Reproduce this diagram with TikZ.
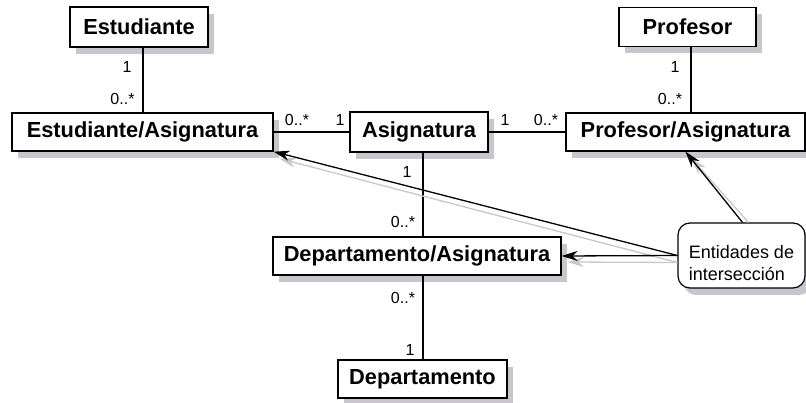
\documentclass[tikz,border=0pt]{standalone}
\usepackage{fontspec}
\setmainfont{Liberation Sans}
\usetikzlibrary{shadows,arrows.meta}

\definecolor{shadowgray}{RGB}{200,198,204}
\definecolor{pointergray}{RGB}{200,200,202}

\tikzset{
  boxshadow/.style={drop shadow={shadow xshift=6pt, shadow yshift=-7pt, fill=shadowgray, opacity=1}},
  entity/.style={draw, fill=white, line width=1.3pt, inner sep=0pt, boxshadow,
    font=\fontsize{21.8}{26}\selectfont\bfseries},
  note/.style={draw, fill=white, line width=1.2pt, rounded corners=12pt, inner sep=0pt,
    align=left, boxshadow, font=\fontsize{18}{22}\selectfont},
  mult/.style={inner sep=0pt, font=\fontsize{16}{19}\selectfont},
  assoc/.style={line width=2pt},
  pointer/.style={line width=1.3pt, -{Stealth[length=16pt,width=10pt,inset=5pt]}},
  pointershade/.style={pointer, draw=pointergray, fill=pointergray}
}

\begin{document}
\begin{tikzpicture}[x=1pt, y=-1pt]
  \useasboundingbox (0,0) rectangle (806,403);

  % entities
  \node[entity, minimum width=138pt, minimum height=40pt] (estud)    at (139,27)    {Estudiante};
  \node[entity, minimum width=261pt, minimum height=38pt] (estasig)  at (142.5,132) {Estudiante/Asignatura};
  \node[entity, minimum width=138pt, minimum height=40pt] (asig)     at (419,132)   {Asignatura};
  \node[entity, minimum width=137pt, minimum height=39pt] (prof)     at (687.5,27)  {Profesor};
  \node[entity, minimum width=239pt, minimum height=38pt] (profasig) at (685.5,132) {Profesor/Asignatura};
  \node[entity, minimum width=288pt, minimum height=38pt] (deptasig) at (417,256)   {Departamento/Asignatura};
  \node[entity, minimum width=169pt, minimum height=38pt] (dept)     at (422.5,379) {Departamento};

  % note
  \node[note, minimum width=127pt, minimum height=65pt] (note) at (741.5,255.5)
    {\rule{0pt}{28pt}Entidades de\\intersección};

  % axis of the Profesor association
  \coordinate (profaxis) at (691,0);

  % associations
  \draw[assoc] (estasig.north) -- (estasig.north |- estud.south);
  \draw[assoc] (estasig.east) -- (asig.west);
  \draw[assoc] (asig.east) -- (profasig.west);
  \draw[assoc] (prof.south -| profaxis) -- (profasig.north -| profaxis);
  \draw[assoc] (asig.south -| dept.north) -- (deptasig.north -| dept.north);
  \draw[assoc] (deptasig.south -| dept.north) -- (dept.north);

  % multiplicities
  \node[mult] (m1)  at (127,67)  {1};
  \node[mult] (m2)  at (122.5,99) {0..*};
  \node[mult] (m3)  at (297,120) {0..*};
  \node[mult] (m4)  at (340,120) {1};
  \node[mult] (m5)  at (505,120) {1};
  \node[mult] (m6)  at (546,120) {0..*};
  \node[mult] (m7)  at (675,67)  {1};
  \node[mult] (m8)  at (670,99)  {0..*};
  \node[mult] (m9)  at (407,172) {1};
  \node[mult] (m10) at (403,222) {0..*};
  \node[mult] (m11) at (403,298) {0..*};
  \node[mult] (m12) at (410,350) {1};

  % pointer shadows
  \draw[pointershade] ([yshift=-7pt]note.west) -- ([shift={(6pt,-7pt)}]estasig.south east);
  \draw[pointershade] ([yshift=-7pt]note.west) -- ([shift={(6pt,-6pt)}]deptasig.east);
  \draw[pointershade] ([xshift=7pt]note.north) -- ([shift={(6pt,-7pt)}]profasig.south);

  % pointers
  \draw[pointer] (note.west) -- (estasig.south east);
  \draw[pointer] (note.west) -- (deptasig.east);
  \draw[pointer] ([xshift=1pt]note.north) -- (profasig.south);
\end{tikzpicture}
\end{document}
